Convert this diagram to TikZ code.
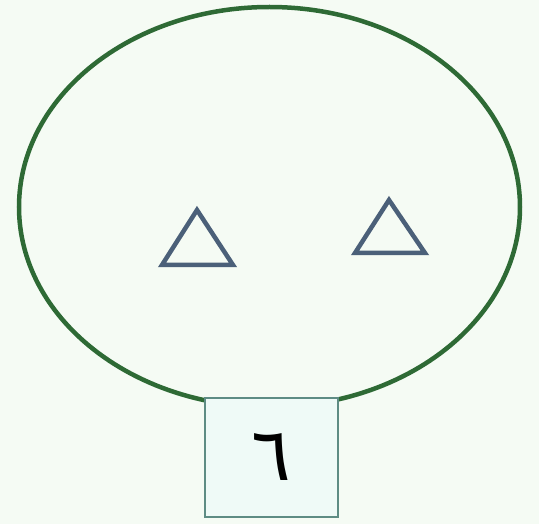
\documentclass[tikz,border=0pt]{standalone}
\usepackage{fontspec}
\usepackage{xcolor}
\usepackage{tikz}
\TeXXeTstate=1
\newfontfamily\arabicfont[Script=Arabic]{DejaVu Sans}
\definecolor{pagetint}{HTML}{F5FBF4}
\definecolor{ringgreen}{HTML}{2E6A35}
\definecolor{triblue}{HTML}{4B6079}
\definecolor{boxedge}{HTML}{5E8C84}
\definecolor{boxfill}{HTML}{EFFAF7}

\begin{document}
\begin{tikzpicture}[x=1pt,y=-1pt]
    \fill[pagetint] (0,0) rectangle (539,524);
    \useasboundingbox (0,0) rectangle (539,524);
    \draw[line width=4.5pt, ringgreen] (269.5,207) ellipse [x radius=250.5, y radius=200];
    \draw[line width=4.5pt, triblue] (197,210) -- (233,265) -- (162,265) -- cycle;
    \draw[line width=4.5pt, triblue] (389,200) -- (425,253) -- (355,253) -- cycle;
    \node[draw=boxedge, fill=boxfill, line width=2pt, minimum width=133pt, minimum height=119pt, inner sep=0pt] (six) at (271.5,457.5) {\arabicfont\fontsize{74}{80}\selectfont\beginR ٦\endR};
\end{tikzpicture}
\end{document}
